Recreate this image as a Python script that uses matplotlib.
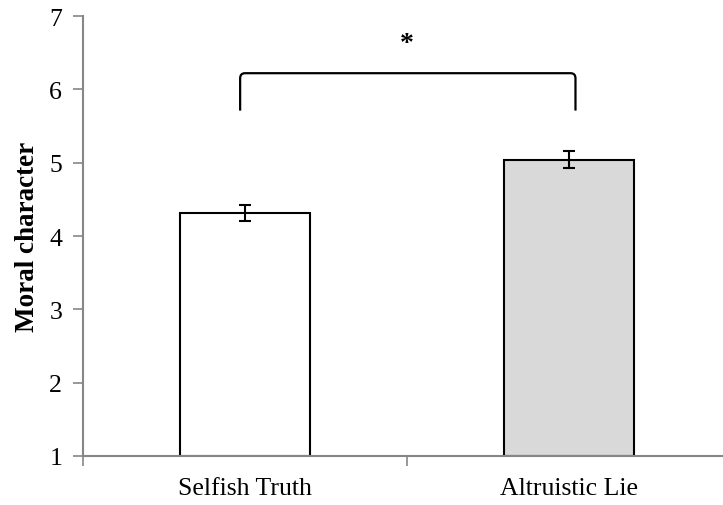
import matplotlib
matplotlib.use("Agg")
import matplotlib.pyplot as plt
from matplotlib.path import Path
from matplotlib.patches import PathPatch

categories = ["Selfish Truth", "Altruistic Lie"]
means = [4.31, 5.04]
errors = [0.11, 0.113]
colors = ["#ffffff", "#d9d9d9"]
y_ticks = [1, 2, 3, 4, 5, 6, 7]
ylabel = "Moral character"
sig_label = "*"
bracket_bottom = 5.71
bracket_top = 6.22
sig_y = 6.62

plt.rcParams['font.family'] = ['Liberation Serif', 'DejaVu Serif']

W, H = 723, 506
fig = plt.figure(figsize=(W / 100, H / 100), dpi=100)
left, right, top, bottom = 83, 723, 17, 457
ax = fig.add_axes([left / W, 1 - bottom / H, (right - left) / W, (bottom - top) / H])

x = list(range(len(categories)))
ax.bar(x, [m - 1 for m in means], bottom=1, width=0.4, color=colors,
       edgecolor="black", linewidth=1.5, zorder=2)
ax.errorbar(x, means, yerr=errors, fmt="none", ecolor="black",
            elinewidth=1.5, capsize=4.5, capthick=1.5, zorder=3)

ax.set_xlim(-0.5, -0.5 + (right - left) / 324)
ax.set_ylim(1, 7)
ax.set_yticks(y_ticks)
ax.set_yticklabels([str(t) for t in y_ticks], fontsize=18.5)
ax.set_xticks([-0.5, 0.5])
ax.set_xticklabels([])
ax.set_xticks(x, minor=True)
ax.set_xticklabels(categories, minor=True, fontsize=18.5)
ax.tick_params(axis="x", which="minor", length=0, pad=15)
ax.tick_params(axis="x", which="major", length=7, width=1.2, color="#868686", direction="out")
ax.tick_params(axis="y", length=7, width=1.2, color="#868686", direction="out", pad=8)

for s in ["top", "right"]:
    ax.spines[s].set_visible(False)
for s in ["left", "bottom"]:
    ax.spines[s].set_color("#868686")
    ax.spines[s].set_linewidth(1.5)

ax.set_ylabel(ylabel, fontsize=19.5, fontweight="bold")
ax.yaxis.set_label_coords(-(left - 40) / (right - left), (bottom - 237) / (bottom - top))

# significance bracket
x1 = x[0] - 0.015
x2 = x[1] + 0.02
rx, ry = 0.015, 0.07
verts = [(x1, bracket_bottom), (x1, bracket_top - ry), (x1, bracket_top), (x1 + rx, bracket_top),
         (x2 - rx, bracket_top), (x2, bracket_top), (x2, bracket_top - ry), (x2, bracket_bottom)]
codes = [Path.MOVETO, Path.LINETO, Path.CURVE3, Path.CURVE3,
         Path.LINETO, Path.CURVE3, Path.CURVE3, Path.LINETO]
ax.add_patch(PathPatch(Path(verts, codes), fill=False, edgecolor="black", linewidth=1.6,
                       clip_on=False, zorder=4))
ax.text((x[0] + x[1]) / 2, sig_y, sig_label, ha="center", va="center", fontsize=20,
        fontweight="bold")

fig.savefig("out.png", dpi=100)
